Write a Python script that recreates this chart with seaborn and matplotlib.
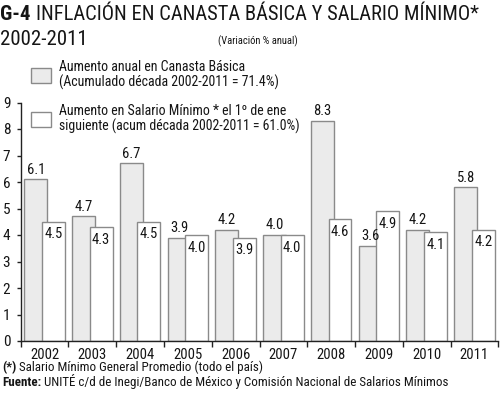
import matplotlib
matplotlib.use('Agg')
import matplotlib.pyplot as plt
import seaborn as sns
import numpy as np

years = ['2002', '2003', '2004', '2005', '2006', '2007', '2008', '2009', '2010', '2011']
canasta = [6.1, 4.7, 6.7, 3.9, 4.2, 4.0, 8.3, 3.6, 4.2, 5.8]
salario = [4.5, 4.3, 4.5, 4.0, 3.9, 4.0, 4.6, 4.9, 4.1, 4.2]
yticks = [0, 1, 2, 3, 4, 5, 6, 7, 8, 9]
label_canasta = "Aumento anual en Canasta Básica\n(Acumulado década 2002-2011 = 71.4%)"
label_salario = "Aumento en Salario Mínimo * el 1º de ene\nsiguiente (acum década 2002-2011 = 61.0%)"

sns.set_theme(style='white')
FONT = ['Roboto Condensed', 'DejaVu Sans']
plt.rcParams['font.family'] = FONT
INK = '#151515'
plt.rcParams.update({'text.color': INK, 'xtick.color': INK, 'ytick.color': INK,
                     'axes.labelcolor': INK})

W, H = 500, 399
fig = plt.figure(figsize=(W / 100, H / 100), dpi=100)
ax = fig.add_axes([20.7 / W, 1 - 341 / H, (498.3 - 20.7) / W, (341 - 102.5) / H])

idx = np.arange(len(years))
EDGE = '#8a8a8a'
sns.barplot(x=idx - 0.185, y=canasta, native_scale=True, width=0.48, color='#ebebeb',
            saturation=1, edgecolor=EDGE, linewidth=1, ax=ax)
sns.barplot(x=idx + 0.185, y=salario, native_scale=True, width=0.48, color='white',
            saturation=1, edgecolor=EDGE, linewidth=1, ax=ax)

gray_c, white_c = ax.containers[0], ax.containers[1]
for p, v in zip(gray_c.patches, canasta):
    ax.annotate(f"{v:.1f}", (p.get_x() + p.get_width() / 2, p.get_height()),
                xytext=(0, 2), textcoords='offset points', ha='center', va='bottom',
                fontsize=10.5, color=INK)
for p, v in zip(white_c.patches, salario):
    ax.annotate(f"{v:.1f}", (p.get_x() + p.get_width() / 2, p.get_height()),
                xytext=(0, -4), textcoords='offset points', ha='center', va='top',
                fontsize=10.5, color=INK)

ax.set_xlim(-0.5, len(years) - 0.5)
ax.set_ylim(0, 9)
ax.set_yticks(yticks)
ax.set_yticklabels([str(t) for t in yticks], fontsize=11)
ax.set_xticks(np.arange(-0.5, len(years), 1))
ax.set_xticklabels([])
ax.set_xticks(idx, minor=True)
ax.set_xticklabels(years, minor=True, fontsize=10.5)
ax.tick_params(axis='x', which='major', bottom=True, length=4, width=1, direction='out', color='#222222')
ax.tick_params(axis='x', which='minor', bottom=True, length=0, pad=5)
ax.tick_params(axis='y', left=True, length=3, width=1, direction='out', pad=4.5, color='#222222')
ax.set_xlabel('')
ax.set_ylabel('')
sns.despine(ax=ax)
for s in ['left', 'bottom']:
    ax.spines[s].set_color('#222222')
    ax.spines[s].set_linewidth(1)

leg = ax.legend(handles=[gray_c.patches[0], white_c.patches[0]],
                labels=[label_canasta, label_salario],
                loc='upper left', bbox_to_anchor=(30.7 / W, 1 - 60 / H),
                bbox_transform=fig.transFigure, frameon=False, fontsize=10,
                borderpad=0, borderaxespad=0, handlelength=1.45, handleheight=1.3,
                handletextpad=0.6, labelspacing=1.0)
for t in leg.get_texts():
    t.set_linespacing(1.05)

# Titles
fig.canvas.draw()
r = fig.canvas.get_renderer()
t1 = fig.text(0.0, 1 - 20 / H, 'G-4', fontsize=15, fontweight='bold', va='baseline', ha='left')
bb = t1.get_window_extent(r)
fig.text(bb.x1 / W + 5 / W, 1 - 20 / H, 'INFLACIÓN EN CANASTA BÁSICA Y SALARIO MÍNIMO*',
         fontsize=14.8, va='baseline', ha='left')
fig.text(0.0, 1 - 45 / H, '2002-2011', fontsize=15, va='baseline', ha='left')
fig.text(218 / W, 1 - 44 / H, '(Variación % anual)', fontsize=7.6, va='baseline', ha='left')

f1 = fig.text(2 / W, 1 - 371 / H, '(*)', fontsize=9.4, fontweight='bold', va='baseline', ha='left')
bb = f1.get_window_extent(r)
fig.text(bb.x1 / W + 3 / W, 1 - 371 / H, 'Salario Mínimo General Promedio (todo el país)',
         fontsize=9.4, va='baseline', ha='left')
f2 = fig.text(2 / W, 1 - 386 / H, 'Fuente:', fontsize=9.4, fontweight='bold', va='baseline', ha='left')
bb = f2.get_window_extent(r)
fig.text(bb.x1 / W + 3 / W, 1 - 386 / H,
         'UNITÉ c/d de Inegi/Banco de México y Comisión Nacional de Salarios Mínimos',
         fontsize=9.4, va='baseline', ha='left')

fig.savefig('out.png', dpi=100)
